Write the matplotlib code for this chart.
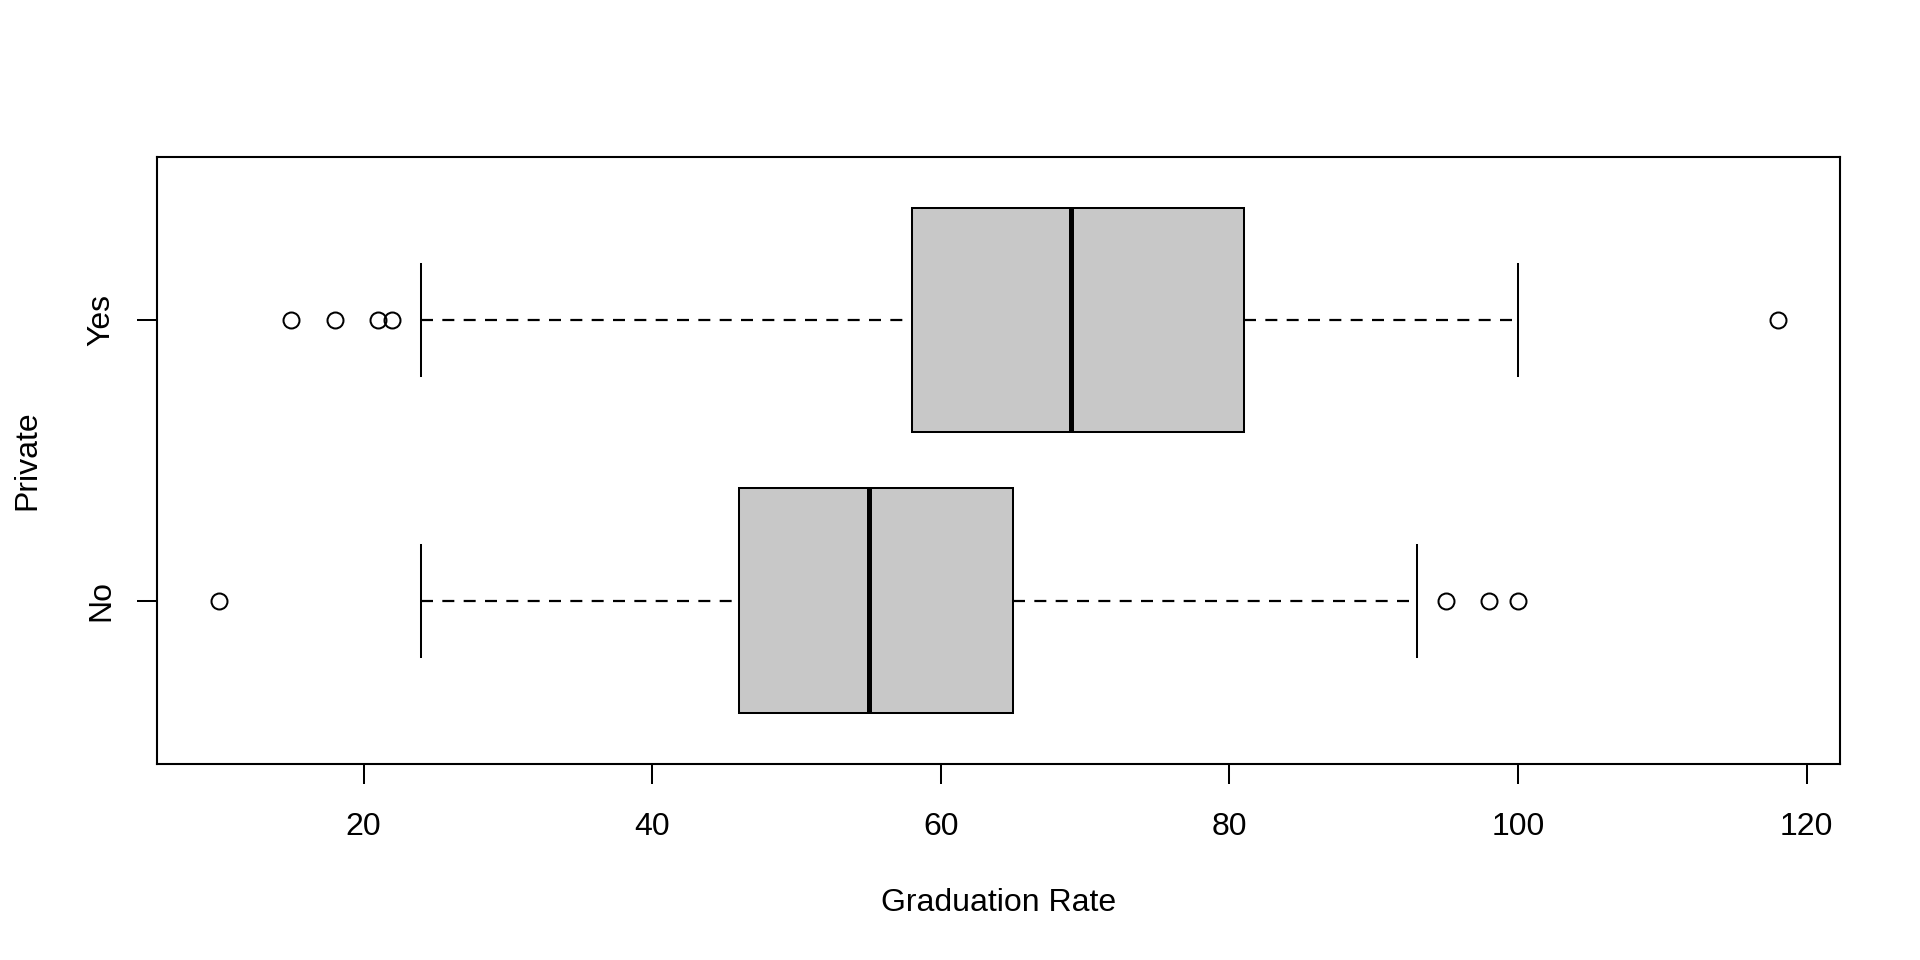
import numpy as np
import matplotlib
matplotlib.use("Agg")
import matplotlib.pyplot as plt

# summary values (Graduation Rate by Private)
groups = ["No", "Yes"]
q1 = [46, 58]
medians = [55, 69]
q3 = [65, 81]
whisker_lo = [24, 24]
whisker_hi = [93, 100]
outliers = [
    [10, 95, 98, 100],
    [15, 18, 21, 22, 118],
]
x_ticks = [20, 40, 60, 80, 100, 120]

plt.rcParams['font.family'] = ['Liberation Sans', 'DejaVu Sans']

W, H = 1920, 960
fig = plt.figure(figsize=(W / 100, H / 100), dpi=100)
# axes box in pixels (left, top, right, bottom)
left, top, right, bottom = 157, 157, 1840, 763.8
ax = fig.add_axes([left / W, 1 - bottom / H, (right - left) / W, (bottom - top) / H])

stats = []
for i, name in enumerate(groups):
    stats.append(dict(label=name, med=medians[i], q1=q1[i], q3=q3[i],
                      whislo=whisker_lo[i], whishi=whisker_hi[i],
                      fliers=np.array(outliers[i], dtype=float)))

lw = 1.45
fs = 23
parts = ax.bxp(stats, positions=[1, 2], widths=0.8, capwidths=0.4,
               orientation='horizontal', patch_artist=True,
               boxprops=dict(facecolor='#C8C8C8', edgecolor='black', linewidth=lw),
               whiskerprops=dict(color='black', linewidth=1.6, linestyle=(0, (5.4, 4.2))),
               capprops=dict(color='black', linewidth=lw),
               medianprops=dict(color='black', linewidth=3.6, solid_capstyle='butt'),
               flierprops=dict(marker='o', markersize=11.5, markerfacecolor='none',
                               markeredgecolor='black', markeredgewidth=lw, linestyle='none'))

# R draws the lower whisker starting at the whisker end, so the dash
# pattern begins at the cap; flip the lower whisker lines to match
for wl in parts['whiskers'][0::2]:
    wl.set_xdata(wl.get_xdata()[::-1])
    wl.set_ydata(wl.get_ydata()[::-1])
# keep the whiskers under the boxes
for wl in parts['whiskers']:
    wl.set_zorder(1.5)

# R style limits: data range plus 4% each side
all_vals = np.concatenate([np.concatenate(outliers), whisker_lo, whisker_hi])
lo, hi = all_vals.min(), all_vals.max()
span = hi - lo
ax.set_xlim(lo - 0.04 * span, hi + 0.04 * span)
ax.set_ylim(0.5 - 0.04 * 2, 2.5 + 0.04 * 2)

ax.set_xticks(x_ticks)
ax.set_xticklabels([str(t) for t in x_ticks])
ax.set_yticks([1, 2])
ax.set_yticklabels(groups)

for s in ax.spines.values():
    s.set_linewidth(1.5)
ax.tick_params(axis='both', length=14.4, width=lw, labelsize=fs, color='black')
ax.tick_params(axis='x', pad=20.0)
ax.tick_params(axis='y', pad=15.0)
for lab in ax.get_yticklabels():
    lab.set_rotation(90)
    lab.set_va('center')
    lab.set_ha('right')

ax.set_xlabel("Graduation Rate", fontsize=fs)
ax.set_ylabel("Private", fontsize=fs)
ax_w = right - left
ax_h = bottom - top
ax.xaxis.set_label_coords(0.5, (bottom - 888) / ax_h)
ax.yaxis.set_label_coords((42 - left) / ax_w, 0.5)

fig.savefig("out.png", dpi=100, facecolor='white')
